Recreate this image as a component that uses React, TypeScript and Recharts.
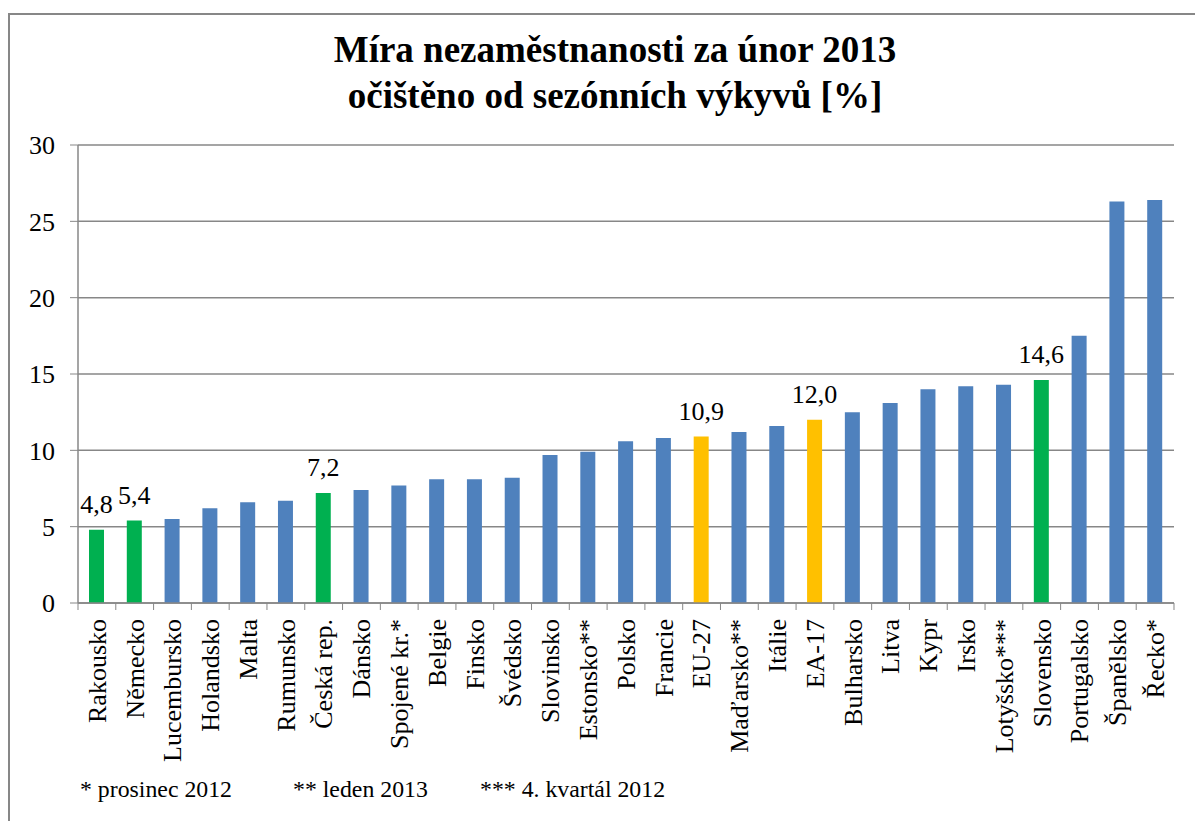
import { Bar, BarChart, CartesianGrid, Cell, LabelList, XAxis, YAxis } from 'recharts';

// Míra nezaměstnanosti, únor 2013 (sezónně očištěno)
const countries = [
  'Rakousko', 'Německo', 'Lucembursko', 'Holandsko', 'Malta', 'Rumunsko', 'Česká rep.',
  'Dánsko', 'Spojené kr.*', 'Belgie', 'Finsko', 'Švédsko', 'Slovinsko', 'Estonsko**',
  'Polsko', 'Francie', 'EU-27', 'Maďarsko**', 'Itálie', 'EA-17', 'Bulharsko', 'Litva',
  'Kypr', 'Irsko', 'Lotyšsko***', 'Slovensko', 'Portugalsko', 'Španělsko', 'Řecko*',
];

const rates = [
  4.8, 5.4, 5.5, 6.2, 6.6, 6.7, 7.2, 7.4, 7.7, 8.1, 8.1, 8.2, 9.7, 9.9, 10.6, 10.8, 10.9,
  11.2, 11.6, 12.0, 12.5, 13.1, 14.0, 14.2, 14.3, 14.6, 17.5, 26.3, 26.4,
];

// 'cz' = zvýrazněné státy (zeleně), 'eu' = průměry EU/EA (žlutě), '' = ostatní
const groups = [
  'cz', 'cz', '', '', '', '', 'cz', '', '', '', '', '', '', '', '', '', 'eu', '', '', 'eu',
  '', '', '', '', '', 'cz', '', '', '',
];

const yTicks = [0, 5, 10, 15, 20, 25, 30];

const footnotes = ['* prosinec 2012', '** leden 2013', '*** 4. kvartál 2012'];

const data = countries.map((name, i) => ({ name, rate: rates[i], group: groups[i] }));

const colors: Record<string, string> = { cz: '#00b050', eu: '#ffc000', '': '#4f81bd' };
const FONT = '"Liberation Serif", "Times New Roman", serif';
const GRAY = '#878787';

function CategoryTick(props: any) {
  const { x, y, payload, index, visibleTicksCount } = props;
  const off = payload.offset ?? 0;
  return (
    <g transform={`translate(${x},${y})`}>
      <line x1={-off} y1={0} x2={-off} y2={7} stroke={GRAY} />
      {index === visibleTicksCount - 1 && (
        <line x1={off} y1={0} x2={off} y2={7} stroke={GRAY} />
      )}
      <text
        transform="rotate(-90)"
        x={-16}
        y={0}
        dy="0.34em"
        textAnchor="end"
        fontSize={26}
        fontFamily={FONT}
        fill="#000"
      >
        {payload.value}
      </text>
    </g>
  );
}

function ValueLabel(props: any) {
  const { x, y, width, value, index } = props;
  if (!groups[index]) return null;
  return (
    <text
      x={x + width / 2}
      y={y - 17}
      textAnchor="middle"
      fontSize={26}
      fontFamily={FONT}
      fill="#000"
    >
      {Number(value).toFixed(1).replace('.', ',')}
    </text>
  );
}

export default function App() {
  return (
    <div style={{ position: 'relative', width: 1195, height: 821, overflow: 'hidden', background: '#fff' }}>
      <style>{`body{margin:0;overflow:hidden;} .recharts-wrapper text{font-family:${FONT};}`}</style>
      <div
        style={{
          position: 'absolute',
          left: 8,
          top: 13,
          width: 1220,
          height: 840,
          border: `2px solid ${GRAY}`,
          boxSizing: 'border-box',
        }}
      />
      <div
        style={{
          position: 'absolute',
          left: 0,
          top: 27,
          width: 1230,
          textAlign: 'center',
          fontFamily: FONT,
          fontWeight: 'bold',
          fontSize: 37,
          lineHeight: '46px',
          color: '#000',
        }}
      >
        Míra nezaměstnanosti za únor 2013
        <br />
        očištěno od sezónních výkyvů [%]
      </div>
      <div style={{ position: 'absolute', left: 0, top: 0, fontFamily: FONT }}>
        <BarChart
          width={1195}
          height={821}
          data={data}
          margin={{ top: 145, right: 21, bottom: 58, left: 0 }}
          barCategoryGap="60%"
        >
          <CartesianGrid vertical={false} stroke={GRAY} strokeWidth={1.5} />
          <XAxis
            dataKey="name"
            interval={0}
            height={160}
            tickLine={false}
            tickSize={0}
            tickMargin={0}
            axisLine={{ stroke: GRAY, strokeWidth: 1.5 }}
            tick={<CategoryTick />}
          />
          <YAxis
            domain={[0, 30]}
            ticks={yTicks}
            width={78}
            tickSize={8}
            tickMargin={15}
            axisLine={{ stroke: GRAY, strokeWidth: 1.5 }}
            tickLine={{ stroke: GRAY }}
            tick={{ fontSize: 26, fontFamily: FONT, fill: '#000' }}
          />
          <Bar dataKey="rate" barSize={15} isAnimationActive={false}>
            {data.map((d) => (
              <Cell key={d.name} fill={colors[d.group]} />
            ))}
            <LabelList dataKey="rate" content={<ValueLabel />} />
          </Bar>
        </BarChart>
      </div>
      {footnotes.map((t, i) => (
        <div
          key={t}
          style={{
            position: 'absolute',
            left: [80, 293, 480][i],
            top: 775,
            fontFamily: FONT,
            fontSize: 23.8,
            lineHeight: '28px',
            whiteSpace: 'nowrap',
            color: '#000',
          }}
        >
          {t}
        </div>
      ))}
    </div>
  );
}
